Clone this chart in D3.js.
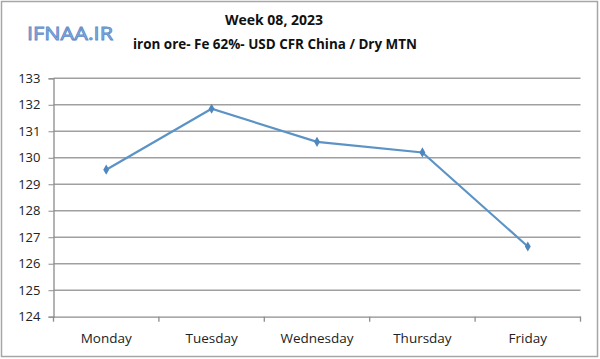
<!DOCTYPE html>
<html><head><meta charset="utf-8">
<script src="https://cdn.jsdelivr.net/npm/d3@7"></script>
<style>body{margin:0;background:#fff}svg{display:block}text{font-family:"Open Sans",sans-serif}</style>
</head><body><svg id="c" width="600" height="359"></svg>
<script>
const days = ["Monday","Tuesday","Wednesday","Thursday","Friday"];
const prices = [129.55, 131.85, 130.6, 130.2, 126.65];
const yTicks = [124,125,126,127,128,129,130,131,132,133];
const title = "Week 08, 2023";
const subtitle = "iron ore- Fe 62%- USD CFR China / Dry MTN";
const logo = "IFNAA.IR";

const svg = d3.select("#c");
svg.append("rect").attr("x",1.5).attr("y",1.5).attr("width",596).attr("height",355)
  .attr("fill","#fff").attr("stroke","#a6a6a6").attr("stroke-width",1.5);

const L=53.5, R=580.5, T=78.3, B=316.7;
const x = d3.scaleBand().domain(days).range([L,R]);
const y = d3.scaleLinear().domain([124,133]).range([B,T]);

// gridlines
svg.append("g").selectAll("line").data(yTicks.filter(v=>v>124)).join("line")
  .attr("x1",L).attr("x2",R).attr("y1",d=>y(d)).attr("y2",d=>y(d))
  .attr("stroke","#a0a0a0").attr("stroke-width",1.5);

// y axis
const ya = svg.append("g").attr("transform",`translate(${L},0)`)
  .call(d3.axisLeft(y).tickValues(yTicks).tickSize(5).tickPadding(8).tickFormat(d3.format("d")));
ya.select(".domain").attr("stroke","#8c8c8c").attr("stroke-width",1.3);
ya.selectAll(".tick line").attr("stroke","#8c8c8c");
ya.selectAll("text").attr("font-size",13).attr("fill","#222").attr("font-family","'Open Sans',sans-serif");

// x axis
const xa = svg.append("g").attr("transform",`translate(0,${B})`)
  .call(d3.axisBottom(x).tickSize(0).tickPadding(17));
xa.select(".domain").attr("stroke","#8c8c8c").attr("stroke-width",1.3);
xa.selectAll("text").attr("font-size",13.5).attr("fill","#222").attr("font-family","'Open Sans',sans-serif");
// category boundary ticks
const bounds = days.map(d=>x(d)).concat([R]);
svg.append("g").selectAll("line").data(bounds).join("line")
  .attr("x1",d=>d).attr("x2",d=>d).attr("y1",B).attr("y2",B+5)
  .attr("stroke","#8c8c8c").attr("stroke-width",1.3);

// line
const cx = d=>x(d)+x.bandwidth()/2;
svg.append("path").datum(prices)
  .attr("d", d3.line().x((d,i)=>cx(days[i])).y(d=>y(d)))
  .attr("fill","none").attr("stroke","#5b93c6").attr("stroke-width",2.2);
svg.append("g").selectAll("path").data(prices).join("path")
  .attr("d", d3.symbol(d3.symbolDiamond, 30))
  .attr("transform",(d,i)=>`translate(${cx(days[i])},${y(d)})`)
  .attr("fill","#4f86bd");

// titles
svg.append("text").attr("x",274).attr("y",25).attr("text-anchor","middle")
  .attr("font-size",14).attr("font-weight","bold").attr("fill","#111").text(title);
svg.append("text").attr("x",275).attr("y",49).attr("text-anchor","middle")
  .attr("font-size",14).attr("font-weight","bold").attr("fill","#111")
  .attr("textLength",284).attr("lengthAdjust","spacingAndGlyphs").text(subtitle);
svg.append("text").attr("x",27).attr("y",39.5)
  .attr("font-size",18).attr("fill","#8fb4e3").attr("stroke","#5e8cc8").attr("stroke-width",0.8)
  .attr("textLength",86).attr("lengthAdjust","spacingAndGlyphs").text(logo);
</script></body></html>
